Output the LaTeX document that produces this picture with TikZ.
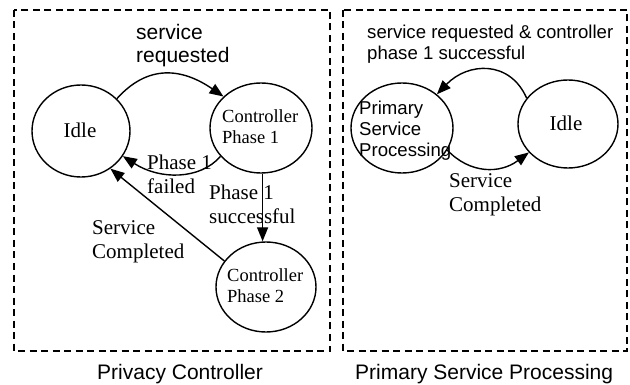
\documentclass[tikz,border=0pt]{standalone}
\usepackage{fontspec}
\setmainfont{Liberation Serif}
\newfontfamily\arialf{Liberation Sans}
\usetikzlibrary{arrows.meta,shapes.geometric}
\newcommand\tl[1]{\begin{tabular}[t]{@{}l@{}}#1\end{tabular}}
\begin{document}
\begin{tikzpicture}[x=1pt,y=-1pt,
  st/.style={draw, ellipse, line width=1.4pt, inner sep=0pt},
  tr/.style={-{Triangle[length=14pt,width=11pt]}, line width=1.4pt},
  frame/.style={draw, dash pattern=on 7pt off 4.5pt, line width=1.3pt},
  lbl/.style={inner sep=0pt, anchor=base west},
  bigserif/.style={font=\fontsize{21}{24}\selectfont},
  smallserif/.style={font=\fontsize{18.5}{20.5}\selectfont},
  bigsans/.style={font=\arialf\fontsize{21}{23}\selectfont},
  smallsans/.style={font=\arialf\fontsize{18.6}{21}\selectfont}]
\useasboundingbox (0,0) rectangle (630,385);
% frames
\draw[frame] (14,10) rectangle (330,351);
\draw[frame] (343,10) rectangle (627,351);
% states, left
\node[st, minimum width=98pt, minimum height=92pt] (idleL) at (81,131) {};
\node[st, minimum width=102pt, minimum height=90pt] (cp1) at (261,128) {};
\node[st, minimum width=100pt, minimum height=90pt] (cp2) at (266,287) {};
% states, right
\node[st, minimum width=102pt, minimum height=90pt] (psp) at (402,128) {};
\node[st, minimum width=100pt, minimum height=88pt] (idleR) at (568,124) {};
% state texts
\node[bigserif, inner sep=0pt, anchor=base] (tidleL) at (80,138) {Idle};
\node[smallserif, lbl] (tcp1) at (222,123) {\tl{Controller\\Phase 1}};
\node[smallserif, lbl] (tcp2) at (227,282) {\tl{Controller\\Phase 2}};
\node[smallsans, lbl] (tpsp) at (359,115) {\tl{Primary\\Service\\Processing}};
\node[bigserif, inner sep=0pt, anchor=base] (tidleR) at (566,131) {Idle};
% connectors, left
\draw[tr] (idleL.42) .. controls (148,64) and (182,68) .. (cp1.140);
\draw[tr] (cp1.-145) .. controls (200,180) and (160,180) .. (idleL.-31);
\coordinate (c3) at (cp1.-88);
\draw[tr] (c3) -- (c3 |- cp2.north);
\draw[tr] (cp2.148) -- (idleL.-52);
% connectors, right
\draw[tr] (idleR.148) .. controls (510,60) and (468,62) .. (psp.44);
\draw[tr] (psp.-26) .. controls (470,174) and (500,174) .. (idleR.-144);
% labels
\node[bigsans, lbl] (lsr) at (136,40) {\tl{service\\requested}};
\node[bigserif, lbl] (lfail) at (147,170) {\tl{Phase 1\\failed}};
\node[bigserif, lbl] (lsucc) at (209,200) {\tl{Phase 1\\successful}};
\node[bigserif, lbl] (lsc) at (92,235) {\tl{Service\\Completed}};
\node[smallsans, lbl] (lsrc) at (367,39) {\tl{service requested \& controller\\phase 1 successful}};
\node[bigserif, lbl] (lsc2) at (449,188) {\tl{Service\\Completed}};
\node[bigsans, lbl] (cap1) at (97,379) {Privacy Controller};
\node[bigsans, lbl] (cap2) at (355,379) {Primary Service Processing};
\end{tikzpicture}
\end{document}
